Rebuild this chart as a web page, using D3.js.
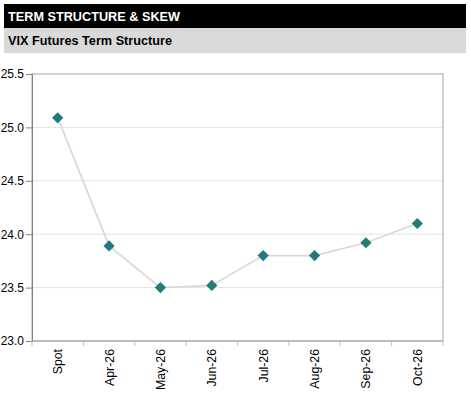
<!DOCTYPE html>
<html>
<head>
<meta charset="utf-8">
<script src="https://cdn.jsdelivr.net/npm/d3@7"></script>
<style>
  body { margin: 0; background: #fff; font-family: "Liberation Sans", Arial, sans-serif; }
  svg text { font-family: "Liberation Sans", Arial, sans-serif; }
</style>
</head>
<body>
<div id="container"></div>
<script>
// data
const categories = ["Spot", "Apr-26", "May-26", "Jun-26", "Jul-26", "Aug-26", "Sep-26", "Oct-26"];
const futures = [25.09, 23.89, 23.50, 23.52, 23.80, 23.80, 23.92, 24.10];
const yTicks = [23.0, 23.5, 24.0, 24.5, 25.0, 25.5];
const title = "TERM STRUCTURE & SKEW";
const subtitle = "VIX Futures Term Structure";

const width = 471, height = 405;
const plot = { left: 32, right: 443, top: 74, bottom: 341 };

const svg = d3.select("#container").append("svg")
  .attr("width", width)
  .attr("height", height);

//-------- header bars --------//
svg.append("rect").attr("x", 4).attr("y", 4).attr("width", 462).attr("height", 24).attr("fill", "#000");
svg.append("text").attr("x", 8).attr("y", 21).text(title)
  .attr("fill", "#fff").style("font-size", "12.7px").style("font-weight", "bold");

svg.append("rect").attr("x", 4).attr("y", 28).attr("width", 462).attr("height", 25).attr("fill", "#d9d9d9");
svg.append("text").attr("x", 8).attr("y", 45).text(subtitle)
  .attr("fill", "#000").style("font-size", "12.7px").style("font-weight", "bold");

//-------- scales --------//
const x = d3.scaleBand().domain(categories).range([plot.left, plot.right]);
const y = d3.scaleLinear().domain([23.0, 25.5]).range([plot.bottom, plot.top]);

// gridlines
svg.append("g")
  .selectAll("line")
  .data(yTicks.slice(1, -1))
  .join("line")
  .attr("x1", plot.left).attr("x2", plot.right)
  .attr("y1", d => y(d)).attr("y2", d => y(d))
  .attr("stroke", "#e3e3e3").attr("stroke-width", 1);

// frame
svg.append("rect")
  .attr("x", plot.left).attr("y", plot.top)
  .attr("width", plot.right - plot.left).attr("height", plot.bottom - plot.top)
  .attr("fill", "none").attr("stroke", "#a6a6a6").attr("stroke-width", 1);

//-------- axes --------//
const yAxis = svg.append("g")
  .attr("transform", "translate(" + plot.left + ",0)")
  .call(d3.axisLeft(y).tickValues(yTicks).tickFormat(d3.format(".1f")).tickSize(6).tickPadding(2));
yAxis.select(".domain").attr("stroke", "#808080");
yAxis.selectAll(".tick line").attr("stroke", "#808080");
yAxis.selectAll(".tick text").attr("fill", "#000").style("font-size", "12px");

const xAxis = svg.append("g")
  .attr("transform", "translate(0," + plot.bottom + ")");
xAxis.append("line")
  .attr("x1", plot.left).attr("x2", plot.right)
  .attr("stroke", "#a6a6a6");
const edges = categories.map(c => x(c)).concat([plot.right]);
xAxis.selectAll(".tk")
  .data(edges)
  .join("line")
  .attr("class", "tk")
  .attr("x1", d => d).attr("x2", d => d)
  .attr("y1", 0).attr("y2", 5)
  .attr("stroke", "#c0c0c0");
xAxis.selectAll(".lbl")
  .data(categories)
  .join("text")
  .attr("class", "lbl")
  .attr("transform", d => "translate(" + (x(d) + x.bandwidth() / 2 + 4.5) + ",8) rotate(-90)")
  .attr("text-anchor", "end")
  .style("font-size", "12.3px")
  .text(d => d);

//-------- line + markers --------//
const line = d3.line()
  .x((d, i) => x(categories[i]) + x.bandwidth() / 2)
  .y(d => y(d));

svg.append("path")
  .datum(futures)
  .attr("d", line)
  .attr("fill", "none")
  .attr("stroke", "#d9d9d9")
  .attr("stroke-width", 1.75);

svg.append("g")
  .selectAll("path")
  .data(futures)
  .join("path")
  .attr("d", d3.symbol().type(d3.symbolDiamond2).size(80))
  .attr("transform", (d, i) => "translate(" + (x(categories[i]) + x.bandwidth() / 2) + "," + y(d) + ")")
  .attr("fill", "#227a7c");
</script>
</body>
</html>
